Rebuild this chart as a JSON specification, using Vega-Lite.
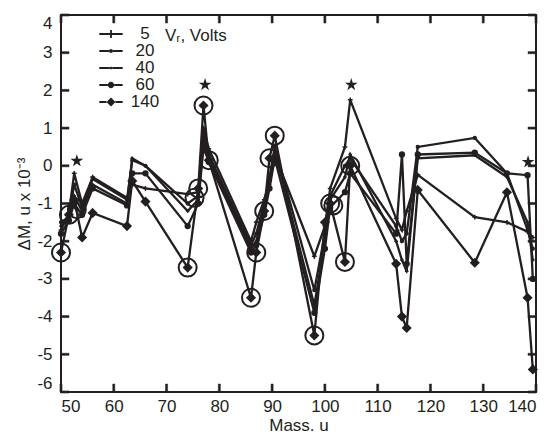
{
  "$schema": "https://vega.github.io/schema/vega-lite/v6.json",
  "width": 475,
  "height": 377,
  "autosize": {"type": "none"},
  "padding": {"left": 61, "top": 15, "right": 19, "bottom": 45},
  "background": "white",
  "config": {
    "view": {"stroke": "#231f20", "strokeWidth": 2},
    "font": "Liberation Sans",
    "axis": {
      "domain": false, "ticks": false, "grid": false, "labelOverlap": false,
      "labelColor": "#231f20", "labelFontSize": 17, "labelFont": "Liberation Sans",
      "titleFont": "Liberation Sans", "titleFontSize": 17, "titleFontWeight": "normal", "titleColor": "#231f20"
    }
  },
  "datasets": {
    "series": [
      {"s":"5","m":50,"dm":-1.7},{"s":"5","m":51.5,"dm":-1.25},{"s":"5","m":52.5,"dm":-0.2},{"s":"5","m":54,"dm":-1.0},{"s":"5","m":56,"dm":-0.3},{"s":"5","m":62.5,"dm":-0.85},{"s":"5","m":63.5,"dm":-0.5},{"s":"5","m":66,"dm":-0.6},{"s":"5","m":74,"dm":-0.75},{"s":"5","m":76,"dm":-0.7},{"s":"5","m":77,"dm":1.0},{"s":"5","m":78,"dm":0.45},{"s":"5","m":86,"dm":-2.0},{"s":"5","m":87,"dm":-1.5},{"s":"5","m":88.5,"dm":-0.9},{"s":"5","m":89.5,"dm":-0.4},{"s":"5","m":90.5,"dm":0.3},{"s":"5","m":98,"dm":-2.4},{"s":"5","m":100,"dm":-1.6},{"s":"5","m":101,"dm":-0.6},{"s":"5","m":103.8,"dm":0.5},{"s":"5","m":104.8,"dm":1.75},{"s":"5","m":113.5,"dm":-1.4},{"s":"5","m":114.6,"dm":-1.7},{"s":"5","m":115.5,"dm":-1.2},{"s":"5","m":117.6,"dm":-0.24},{"s":"5","m":128.4,"dm":-1.36},{"s":"5","m":134.5,"dm":-1.5},{"s":"5","m":138.4,"dm":-1.75},{"s":"5","m":139.4,"dm":-1.9},
      {"s":"20","m":50,"dm":-1.5},{"s":"20","m":51.5,"dm":-1.35},{"s":"20","m":52.5,"dm":-0.5},{"s":"20","m":54,"dm":-1.1},{"s":"20","m":56,"dm":-0.35},{"s":"20","m":62.5,"dm":-0.9},{"s":"20","m":63.5,"dm":0.15},{"s":"20","m":66,"dm":0.0},{"s":"20","m":74,"dm":-1.0},{"s":"20","m":76,"dm":-0.8},{"s":"20","m":77,"dm":0.8},{"s":"20","m":78,"dm":0.3},{"s":"20","m":86,"dm":-2.1},{"s":"20","m":87,"dm":-1.8},{"s":"20","m":88.5,"dm":-1.0},{"s":"20","m":89.5,"dm":-0.3},{"s":"20","m":90.5,"dm":0.5},{"s":"20","m":98,"dm":-3.3},{"s":"20","m":100,"dm":-1.8},{"s":"20","m":101,"dm":-0.8},{"s":"20","m":103.8,"dm":0.0},{"s":"20","m":104.8,"dm":0.2},{"s":"20","m":113.5,"dm":-1.6},{"s":"20","m":114.6,"dm":-2.0},{"s":"20","m":115.5,"dm":-1.8},{"s":"20","m":117.6,"dm":0.5},{"s":"20","m":128.4,"dm":0.74},{"s":"20","m":134.5,"dm":-0.2},{"s":"20","m":138.4,"dm":-1.7},{"s":"20","m":139.4,"dm":-2.2},
      {"s":"40","m":50,"dm":-1.6},{"s":"40","m":51.5,"dm":-1.4},{"s":"40","m":52.5,"dm":-0.8},{"s":"40","m":54,"dm":-1.2},{"s":"40","m":56,"dm":-0.5},{"s":"40","m":62.5,"dm":-1.0},{"s":"40","m":63.5,"dm":0.2},{"s":"40","m":66,"dm":0.0},{"s":"40","m":74,"dm":-1.2},{"s":"40","m":76,"dm":-0.9},{"s":"40","m":77,"dm":0.6},{"s":"40","m":78,"dm":0.2},{"s":"40","m":86,"dm":-2.2},{"s":"40","m":87,"dm":-2.0},{"s":"40","m":88.5,"dm":-1.1},{"s":"40","m":89.5,"dm":-0.5},{"s":"40","m":90.5,"dm":0.4},{"s":"40","m":98,"dm":-3.7},{"s":"40","m":100,"dm":-2.0},{"s":"40","m":101,"dm":-0.9},{"s":"40","m":103.8,"dm":-0.3},{"s":"40","m":104.8,"dm":0.3},{"s":"40","m":113.5,"dm":-2.0},{"s":"40","m":114.6,"dm":-2.5},{"s":"40","m":115.5,"dm":-2.8},{"s":"40","m":117.6,"dm":0.2},{"s":"40","m":128.4,"dm":0.28},{"s":"40","m":134.5,"dm":-0.3},{"s":"40","m":138.4,"dm":-1.5},{"s":"40","m":139.4,"dm":-2.5},
      {"s":"60","m":50,"dm":-1.8},{"s":"60","m":51.5,"dm":-1.45},{"s":"60","m":52.5,"dm":-1.0},{"s":"60","m":54,"dm":-1.3},{"s":"60","m":56,"dm":-0.6},{"s":"60","m":62.5,"dm":-1.05},{"s":"60","m":63.5,"dm":-0.2},{"s":"60","m":66,"dm":-0.2},{"s":"60","m":74,"dm":-1.6},{"s":"60","m":76,"dm":-1.0},{"s":"60","m":77,"dm":0.5},{"s":"60","m":78,"dm":0.1},{"s":"60","m":86,"dm":-2.3},{"s":"60","m":87,"dm":-2.1},{"s":"60","m":88.5,"dm":-1.3},{"s":"60","m":89.5,"dm":-0.6},{"s":"60","m":90.5,"dm":0.2},{"s":"60","m":98,"dm":-3.9},{"s":"60","m":100,"dm":-2.2},{"s":"60","m":101,"dm":-1.1},{"s":"60","m":103.8,"dm":-0.7},{"s":"60","m":104.8,"dm":-0.2},{"s":"60","m":113.5,"dm":-1.8},{"s":"60","m":114.6,"dm":0.3},{"s":"60","m":115.5,"dm":-2.6},{"s":"60","m":117.6,"dm":0.3},{"s":"60","m":128.4,"dm":0.35},{"s":"60","m":134.5,"dm":-0.2},{"s":"60","m":138.4,"dm":-0.25},{"s":"60","m":139.4,"dm":-3.0},
      {"s":"140","m":50,"dm":-2.3},{"s":"140","m":51.5,"dm":-1.3},{"s":"140","m":52.5,"dm":-0.9},{"s":"140","m":54,"dm":-1.9},{"s":"140","m":56,"dm":-1.25},{"s":"140","m":62.5,"dm":-1.6},{"s":"140","m":63.5,"dm":-0.4},{"s":"140","m":66,"dm":-0.95},{"s":"140","m":74,"dm":-2.7},{"s":"140","m":76,"dm":-0.6},{"s":"140","m":77,"dm":1.6},{"s":"140","m":78,"dm":0.15},{"s":"140","m":86,"dm":-3.5},{"s":"140","m":87,"dm":-2.3},{"s":"140","m":88.5,"dm":-1.2},{"s":"140","m":89.5,"dm":0.2},{"s":"140","m":90.5,"dm":0.8},{"s":"140","m":98,"dm":-4.5},{"s":"140","m":100,"dm":-1.5},{"s":"140","m":101,"dm":-1.0},{"s":"140","m":103.8,"dm":-2.55},{"s":"140","m":104.8,"dm":0.0},{"s":"140","m":113.5,"dm":-2.6},{"s":"140","m":114.6,"dm":-4.0},{"s":"140","m":115.5,"dm":-4.3},{"s":"140","m":117.6,"dm":-0.64},{"s":"140","m":128.4,"dm":-2.57},{"s":"140","m":134.5,"dm":-0.7},{"s":"140","m":138.4,"dm":-3.5},{"s":"140","m":139.4,"dm":-5.4}
    ],
    "circled": [
      {"m":50,"dm":-2.3},{"m":51.5,"dm":-1.3},{"m":53,"dm":-1.15},{"m":74,"dm":-2.7},{"m":75.3,"dm":-0.85},{"m":76,"dm":-0.6},{"m":77,"dm":1.6},{"m":78,"dm":0.15},{"m":86,"dm":-3.5},{"m":87,"dm":-2.3},{"m":88.5,"dm":-1.2},{"m":89.5,"dm":0.2},{"m":90.5,"dm":0.8},{"m":98,"dm":-4.5},{"m":101,"dm":-1.0},{"m":101.6,"dm":-1.05},{"m":103.8,"dm":-2.55},{"m":104.8,"dm":0.0}
    ],
    "stars": [
      {"m":53,"dm":0.13},{"m":77.3,"dm":2.15},{"m":105,"dm":2.15},{"m":138.5,"dm":0.1}
    ],
    "xticks": [{"v":50,"lo":-6,"hi":4},{"v":60,"lo":-6,"hi":4},{"v":70,"lo":-6,"hi":4},{"v":80,"lo":-6,"hi":4},{"v":90,"lo":-6,"hi":4},{"v":100,"lo":-6,"hi":4},{"v":110,"lo":-6,"hi":4},{"v":120,"lo":-6,"hi":4},{"v":130,"lo":-6,"hi":4},{"v":140,"lo":-6,"hi":4}],
    "yticks": [{"v":-6,"l":50,"r":140},{"v":-5,"l":50,"r":140},{"v":-4,"l":50,"r":140},{"v":-3,"l":50,"r":140},{"v":-2,"l":50,"r":140},{"v":-1,"l":50,"r":140},{"v":0,"l":50,"r":140},{"v":1,"l":50,"r":140},{"v":2,"l":50,"r":140},{"v":3,"l":50,"r":140},{"v":4,"l":50,"r":140}]
  },
  "resolve": {"axis": {"x": "independent", "y": "independent"}, "scale": {"shape": "independent"}},
  "layer": [
    {
      "data": {"name": "series"},
      "mark": {"type": "line", "stroke": "#231f20", "strokeWidth": 2.3},
      "encoding": {
        "x": {"field": "m", "type": "quantitative", "scale": {"domain": [50, 140], "nice": false},
              "axis": {"values": [50,60,70,80,90,100,110,120,130,140], "title": "Mass. u", "labelDx": 4, "labelPadding": 6, "titlePadding": 3}},
        "y": {"field": "dm", "type": "quantitative", "scale": {"domain": [-6, 4], "nice": false},
              "axis": {"values": [-6,-5,-4,-3,-2,-1,0,1,2,3,4], "title": "ΔM, u x 10⁻³", "labelExpr": "'' + datum.value", "labelFlush": true, "labelPadding": 9, "titlePadding": 3}},
        "detail": {"field": "s", "type": "nominal"}
      }
    },
    {
      "data": {"name": "xticks"},
      "mark": {"type": "point", "shape": "M-0.13,-1H0.13V0H-0.13Z", "filled": true, "fill": "#231f20", "stroke": "#231f20", "strokeWidth": 0.5, "size": 256, "opacity": 1},
      "encoding": {"x": {"field": "v", "type": "quantitative", "axis": null}, "y": {"field": "lo", "type": "quantitative", "axis": null}}
    },
    {
      "data": {"name": "xticks"},
      "mark": {"type": "point", "shape": "M-0.13,0H0.13V1H-0.13Z", "filled": true, "fill": "#231f20", "stroke": "#231f20", "strokeWidth": 0.5, "size": 256, "opacity": 1},
      "encoding": {"x": {"field": "v", "type": "quantitative", "axis": null}, "y": {"field": "hi", "type": "quantitative", "axis": null}}
    },
    {
      "data": {"name": "yticks"},
      "mark": {"type": "point", "shape": "M0,-0.13H1V0.13H0Z", "filled": true, "fill": "#231f20", "stroke": "#231f20", "strokeWidth": 0.5, "size": 256, "opacity": 1},
      "encoding": {"y": {"field": "v", "type": "quantitative", "axis": null}, "x": {"field": "l", "type": "quantitative", "axis": null}}
    },
    {
      "data": {"name": "yticks"},
      "mark": {"type": "point", "shape": "M-1,-0.13H0V0.13H-1Z", "filled": true, "fill": "#231f20", "stroke": "#231f20", "strokeWidth": 0.5, "size": 256, "opacity": 1},
      "encoding": {"y": {"field": "v", "type": "quantitative", "axis": null}, "x": {"field": "r", "type": "quantitative", "axis": null}}
    },
    {
      "data": {"name": "series"},
      "mark": {"type": "point", "filled": true, "fill": "#231f20", "stroke": "#231f20", "strokeWidth": 1.5, "opacity": 1, "size": 64},
      "encoding": {
        "x": {"field": "m", "type": "quantitative", "axis": null},
        "y": {"field": "dm", "type": "quantitative", "axis": null},
        "shape": {"field": "s", "type": "nominal", "legend": null,
          "scale": {"domain": ["5","20","40","60","140"], "range": ["M-0.6,0H0.6M0,-0.6V0.6", "M-0.35,0a0.35,0.35 0 1,0 0.7,0a0.35,0.35 0 1,0 -0.7,0Z", "M-0.45,0H0.45M0,-0.45V0.45", "M-0.6,0a0.6,0.6 0 1,0 1.2,0a0.6,0.6 0 1,0 -1.2,0Z", "M0,-1L1,0L0,1L-1,0Z"]}
        }
      }
    },
    {
      "data": {"name": "series"},
      "mark": {"type": "point", "filled": true, "fill": "#231f20", "opacity": 0, "size": 1},
      "encoding": {
        "x": {"field": "m", "type": "quantitative", "axis": null},
        "y": {"field": "dm", "type": "quantitative", "axis": null},
        "shape": {"field": "s", "type": "nominal",
          "scale": {"domain": ["5","20","40","60","140"], "range": [
            "M-1.3,-0.11H-0.1V0.11H-1.3ZM0.1,-0.11H1.3V0.11H0.1ZM-0.1,-0.45H0.1V0.45H-0.1Z",
            "M-1.3,-0.11H-0.22V0.11H-1.3ZM0.22,-0.11H1.3V0.11H0.22ZM-0.22,0a0.22,0.22 0 1,0 0.44,0a0.22,0.22 0 1,0 -0.44,0Z",
            "M-1.3,-0.11H-0.15V0.11H-1.3ZM0.15,-0.11H1.3V0.11H0.15ZM-0.15,0a0.15,0.15 0 1,0 0.3,0a0.15,0.15 0 1,0 -0.3,0Z",
            "M-1.3,-0.11H-0.35V0.11H-1.3ZM0.35,-0.11H1.3V0.11H0.35ZM-0.35,0a0.35,0.35 0 1,0 0.7,0a0.35,0.35 0 1,0 -0.7,0Z",
            "M-1.3,-0.11H-0.5V0.11H-1.3ZM0.5,-0.11H1.3V0.11H0.5ZM0,-0.5L0.5,0L0,0.5L-0.5,0Z"]},
          "legend": {
            "orient": "none", "legendX": 41, "legendY": 10,
            "title": ["", "Vᵣ, Volts"], "titleLineHeight": 3, "titleOrient": "right", "titleAnchor": "start", "titleBaseline": "top", "titleFontSize": 17, "titleFontWeight": "normal", "titleFont": "Liberation Sans", "titleColor": "#231f20", "titlePadding": 6,
            "labelFontSize": 17, "labelFont": "Liberation Sans", "labelColor": "#231f20", "labelAlign": "center", "labelOffset": 25,
            "symbolSize": 324, "symbolStrokeWidth": 0, "symbolOpacity": 1, "symbolFillColor": "#231f20", "rowPadding": 0
          }
        }
      }
    },
    {
      "data": {"name": "circled"},
      "mark": {"type": "point", "shape": "circle", "filled": false, "stroke": "#231f20", "strokeWidth": 2, "size": 324, "opacity": 1},
      "encoding": {
        "x": {"field": "m", "type": "quantitative", "axis": null},
        "y": {"field": "dm", "type": "quantitative", "axis": null}
      }
    },
    {
      "data": {"name": "stars"},
      "mark": {"type": "point", "shape": "M0,-1L0.2245,-0.309L0.951,-0.309L0.363,0.118L0.588,0.809L0,0.382L-0.588,0.809L-0.363,0.118L-0.951,-0.309L-0.2245,-0.309Z", "filled": true, "fill": "#231f20", "size": 180, "opacity": 1},
      "encoding": {
        "x": {"field": "m", "type": "quantitative", "axis": null},
        "y": {"field": "dm", "type": "quantitative", "axis": null}
      }
    }
  ]
}
